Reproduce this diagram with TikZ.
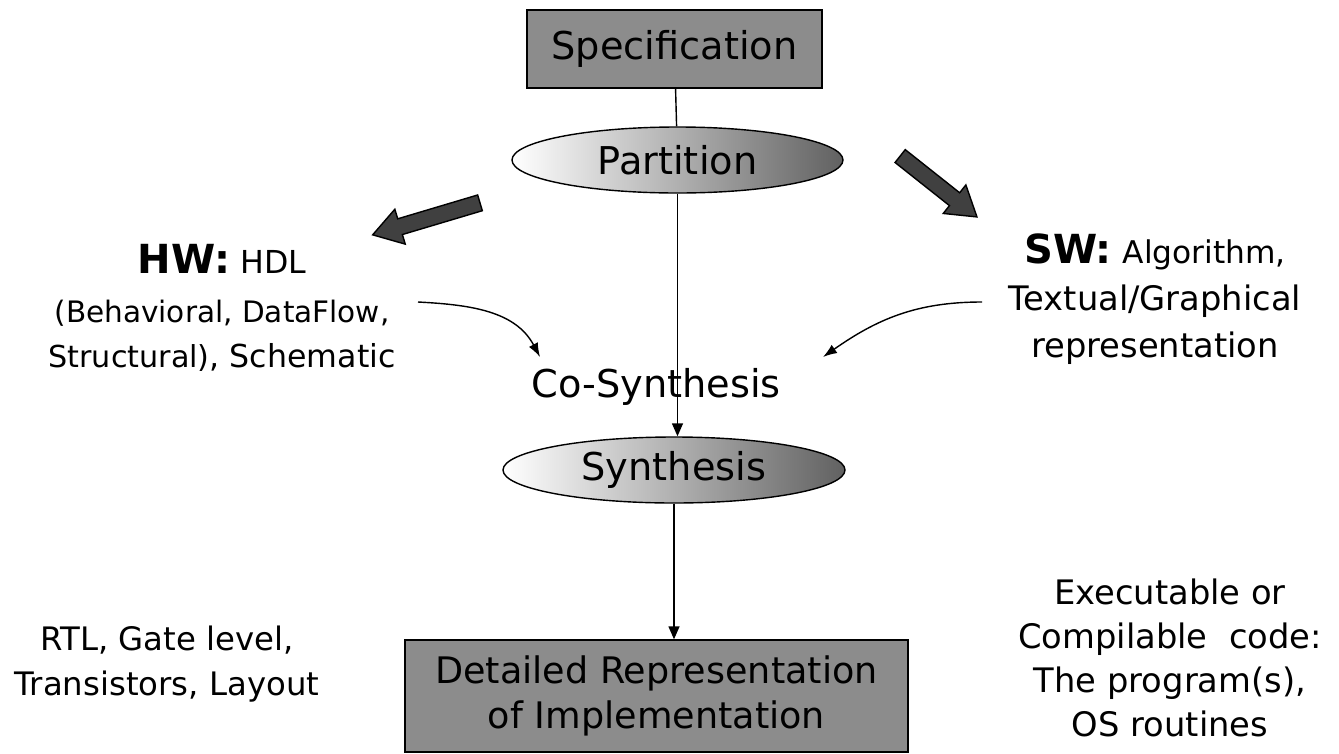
\documentclass[tikz,border=0pt]{standalone}
\usepackage{fontspec}
\setmainfont{DejaVu Sans}
\usetikzlibrary{arrows.meta,shapes.geometric,shapes.arrows}
\definecolor{boxgray}{RGB}{140,140,140}
\definecolor{arrowgray}{RGB}{64,64,64}

\begin{document}
\begin{tikzpicture}[
    stagebox/.style={draw,fill=boxgray,thin,inner sep=0pt,align=center,font=\fontsize{10.9}{12.8}\selectfont},
    stageoval/.style={ellipse,draw,thin,left color=white,right color=black!62,inner sep=0pt,minimum height=0.66cm,font=\fontsize{10.9}{13}\selectfont},
    sidetext/.style={align=center,inner sep=0pt,font=\fontsize{9.2}{12.8}\selectfont},
    fatarrow/.style={single arrow,draw,fill=arrowgray,thin,inner sep=0.75mm,single arrow head extend=1mm,single arrow tip angle=65},
    link/.style={thin,-{Triangle[length=1.3mm,width=1.1mm]}},
    curvelink/.style={thin,-{Latex[length=1.4mm,width=1mm]}}]
        \useasboundingbox (0,0) rectangle (13.39,-7.53);
        \node[stagebox,minimum width=2.95cm,minimum height=0.78cm] (spec) at (6.745,-0.49) {Specification};
        \node[stageoval,minimum width=3.31cm] (part) at (6.775,-1.60) {Partition};
        \node[stageoval,minimum width=3.42cm] (synth) at (6.74,-4.70) {Synthesis};
        \node[stagebox,minimum width=5.03cm,minimum height=1.12cm,font=\fontsize{10.4}{12.8}\selectfont] (impl) at (6.565,-6.96) {Detailed Representation\\of Implementation};
        \node[anchor=base,inner sep=0pt,font=\fontsize{10.9}{13}\selectfont] (cosyn) at (6.56,-3.97) {Co-Synthesis};
        \node[sidetext,font=\fontsize{9}{12.8}\selectfont] (hw) at (2.22,-3.08)
          {{\bfseries\fontsize{11.4}{13}\selectfont HW:} HDL\\[1.2pt]{\fontsize{8.4}{12.8}\selectfont (Behavioral, DataFlow,}\\{\fontsize{8.6}{12.8}\selectfont Structural)}, Schematic};
        \node[sidetext,font=\fontsize{9.6}{13.4}\selectfont] (sw) at (11.55,-2.99)
          {{\bfseries\fontsize{11.4}{13}\selectfont SW:} {\fontsize{8.9}{13}\selectfont Algorithm,}\\Textual/Graphical\\representation};
        \node[sidetext] (rtl) at (1.67,-6.64) {RTL, Gate level,\\Transistors, Layout};
        \node[sidetext,font=\fontsize{9.6}{12.5}\selectfont] (code) at (11.70,-6.58) {Executable or\\Compilable\ \ code:\\The program(s),\\OS routines};
        \node[fatarrow,minimum height=1.12cm,rotate=196.6] (toHW) at (4.325,-2.17) {};
        \node[fatarrow,minimum height=0.98cm,rotate=-38.4] (toSW) at (9.335,-1.825) {};
        \coordinate (hwout) at (4.18,-3.02);
        \coordinate (hwin) at (5.40,-3.57);
        \coordinate (swout) at (9.82,-3.02);
        \coordinate (swin) at (8.23,-3.57);
        \draw[thin] (spec) -- (part);
        \draw[link] (part.south) -- (part.south |- synth.north);
        \draw[link] (synth.south) -- (synth.south |- impl.north);
        \draw[curvelink] (hwout) to[out=-3,in=118] (hwin);
        \draw[curvelink] (swout) to[out=180,in=35] (swin);
\end{tikzpicture}
\end{document}
